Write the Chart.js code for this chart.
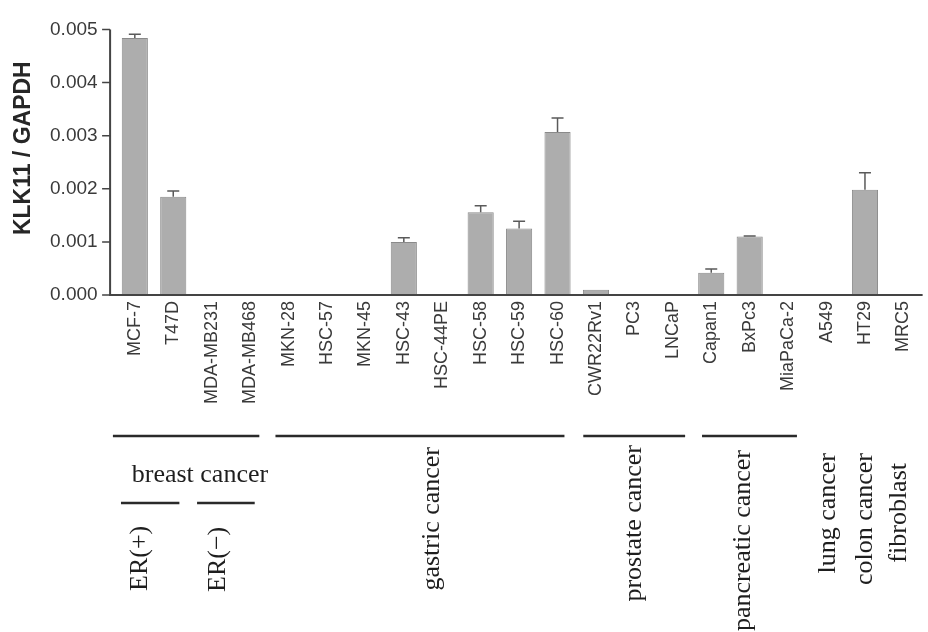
<!DOCTYPE html>
<html>
<head>
<meta charset="utf-8">
<script src="https://cdn.jsdelivr.net/npm/chart.js@4"></script>
<style>
  html, body { margin: 0; padding: 0; background: #fff; overflow: hidden; }
  canvas { display: block; }
</style>
</head>
<body>
<canvas id="chart" width="931" height="632"></canvas>
<script>
// KLK11 expression relative to GAPDH across cell lines
const cellLines = ['MCF-7', 'T47D', 'MDA-MB231', 'MDA-MB468', 'MKN-28', 'HSC-57', 'MKN-45',
  'HSC-43', 'HSC-44PE', 'HSC-58', 'HSC-59', 'HSC-60', 'CWR22Rv1', 'PC3', 'LNCaP',
  'Capan1', 'BxPc3', 'MiaPaCa-2', 'A549', 'HT29', 'MRC5'];
const klk11Ratio = [0.00484, 0.00185, 0, 0, 0, 0, 0, 0.00100, 0, 0.00156, 0.00125, 0.00307,
  0.00010, 0, 0, 0.00042, 0.00110, 0, 0, 0.00198, 0];
const klk11Error = [0.00007, 0.00011, 0, 0, 0, 0, 0, 0.00008, 0, 0.00012, 0.00014, 0.00026,
  0, 0, 0, 0.00007, 0.00001, 0, 0, 0.00032, 0];
const yTicks = [0, 0.001, 0.002, 0.003, 0.004, 0.005];
const axisTitle = 'KLK11 / GAPDH';
const tissueNames = ['breast cancer', 'gastric cancer', 'prostate cancer', 'pancreatic cancer',
  'lung cancer', 'colon cancer', 'fibroblast'];
const erNames = ['ER(+)', 'ER(\u2212)'];

// Bracket lines under the axis, in category units
const brackets = [
  { from: -0.57, to: 3.24, y: 436 },
  { from: 3.66, to: 11.18, y: 436 },
  { from: 11.67, to: 14.32, y: 436 },
  { from: 14.76, to: 17.23, y: 436 },
  { from: -0.36, to: 1.16, y: 503 },
  { from: 1.62, to: 3.12, y: 503 }
];
// Text placement: category position, vertical anchor and whether the anchor is the text's top or bottom
const tissueLayout = [
  { at: -0.08, y: 482, rotate: false },
  { at: 7.75, y: 447, rotate: true, anchor: 'top' },
  { at: 13.0, y: 445, rotate: true, anchor: 'top' },
  { at: 15.84, y: 450, rotate: true, anchor: 'top' },
  { at: 18.03, y: 453, rotate: true, anchor: 'top' },
  { at: 19.0, y: 453, rotate: true, anchor: 'top' },
  { at: 19.88, y: 463, rotate: true, anchor: 'top' }
];
const erLayout = [
  { at: 0.15, y: 591 },
  { at: 2.16, y: 592 }
];

const SERIF = '"Liberation Serif", "DejaVu Serif", serif';
const SANS = '"Liberation Sans", Arial, sans-serif';

const decorations = {
  id: 'decorations',
  afterDatasetsDraw(chart) {
    const { ctx, chartArea, scales } = chart;
    const xs = scales.x, ys = scales.y;
    const axisX = chartArea.left - 5.5;
    const y0 = ys.getPixelForValue(0);
    ctx.save();

    // error bars (upper whisker only)
    const meta = chart.getDatasetMeta(0);
    ctx.strokeStyle = '#5a5a5a';
    ctx.lineWidth = 1.5;
    klk11Error.forEach((err, i) => {
      if (!err) return;
      const bar = meta.data[i];
      const yTop = ys.getPixelForValue(klk11Ratio[i] + err);
      ctx.beginPath();
      ctx.moveTo(bar.x, bar.y);
      ctx.lineTo(bar.x, yTop);
      ctx.moveTo(bar.x - 6, yTop);
      ctx.lineTo(bar.x + 6, yTop);
      ctx.stroke();
    });

    // axes
    ctx.strokeStyle = '#444';
    ctx.lineWidth = 2;
    ctx.beginPath();
    ctx.moveTo(axisX, ys.getPixelForValue(yTicks[yTicks.length - 1]));
    ctx.lineTo(axisX, y0 + 1);
    ctx.moveTo(axisX - 1, y0);
    ctx.lineTo(chartArea.right, y0);
    ctx.stroke();
    ctx.lineWidth = 1.5;
    ctx.beginPath();
    yTicks.forEach(v => {
      const py = ys.getPixelForValue(v);
      ctx.moveTo(axisX - 8, py);
      ctx.lineTo(axisX, py);
    });
    ctx.stroke();

    // y-axis title
    ctx.fillStyle = '#262626';
    ctx.font = 'bold 23px ' + SANS;
    ctx.textAlign = 'center';
    ctx.textBaseline = 'middle';
    ctx.save();
    ctx.translate(24, (chartArea.top + y0) / 2 - 14);
    ctx.rotate(-Math.PI / 2);
    ctx.fillText(axisTitle, 0, 0);
    ctx.restore();

    // group brackets
    ctx.strokeStyle = '#2a2a2a';
    ctx.lineWidth = 2.5;
    ctx.beginPath();
    brackets.forEach(b => {
      ctx.moveTo(xs.getPixelForValue(b.from), b.y);
      ctx.lineTo(xs.getPixelForValue(b.to), b.y);
    });
    ctx.stroke();

    // tissue labels
    ctx.fillStyle = '#1e1e1e';
    ctx.font = '26px ' + SERIF;
    tissueNames.forEach((name, i) => {
      const L = tissueLayout[i];
      const px = xs.getPixelForValue(L.at);
      if (!L.rotate) {
        ctx.textAlign = 'left';
        ctx.textBaseline = 'alphabetic';
        ctx.fillText(name, px, L.y);
      } else {
        ctx.save();
        ctx.translate(px, L.y);
        ctx.rotate(-Math.PI / 2);
        ctx.textAlign = L.anchor === 'top' ? 'right' : 'left';
        ctx.textBaseline = 'middle';
        ctx.fillText(name, 0, 0);
        ctx.restore();
      }
    });
    erNames.forEach((name, i) => {
      const L = erLayout[i];
      ctx.save();
      ctx.translate(xs.getPixelForValue(L.at), L.y);
      ctx.rotate(-Math.PI / 2);
      ctx.textAlign = 'left';
      ctx.textBaseline = 'middle';
      ctx.fillText(name, 0, 0);
      ctx.restore();
    });
    ctx.restore();
  }
};

new Chart(document.getElementById('chart'), {
  type: 'bar',
  data: {
    labels: cellLines,
    datasets: [{
      data: klk11Ratio,
      backgroundColor: '#adadad',
      borderColor: '#8a8a8a',
      borderWidth: 1,
      categoryPercentage: 1,
      barPercentage: 0.68
    }]
  },
  options: {
    responsive: false,
    animation: false,
    layout: { padding: { top: 25, left: 0, right: 0, bottom: 0 } },
    plugins: { legend: { display: false }, tooltip: { enabled: false } },
    scales: {
      x: {
        offset: true,
        grid: { display: false, drawTicks: false },
        border: { display: false },
        ticks: {
          autoSkip: false,
          minRotation: 90,
          maxRotation: 90,
          padding: 6,
          color: '#3a3a3a',
          font: { family: SANS, size: 18 }
        },
        afterFit(scale) { scale.height = 337; }
      },
      y: {
        min: 0,
        max: 0.005,
        afterBuildTicks(scale) { scale.ticks = yTicks.map(v => ({ value: v })); },
        grid: { display: false, drawTicks: false },
        border: { display: false },
        ticks: {
          padding: 18,
          color: '#3a3a3a',
          font: { family: SANS, size: 19 },
          callback: v => Number(v).toFixed(3)
        },
        afterFit(scale) { scale.width = 115.6; }
      }
    }
  },
  plugins: [decorations]
});
</script>
</body>
</html>
